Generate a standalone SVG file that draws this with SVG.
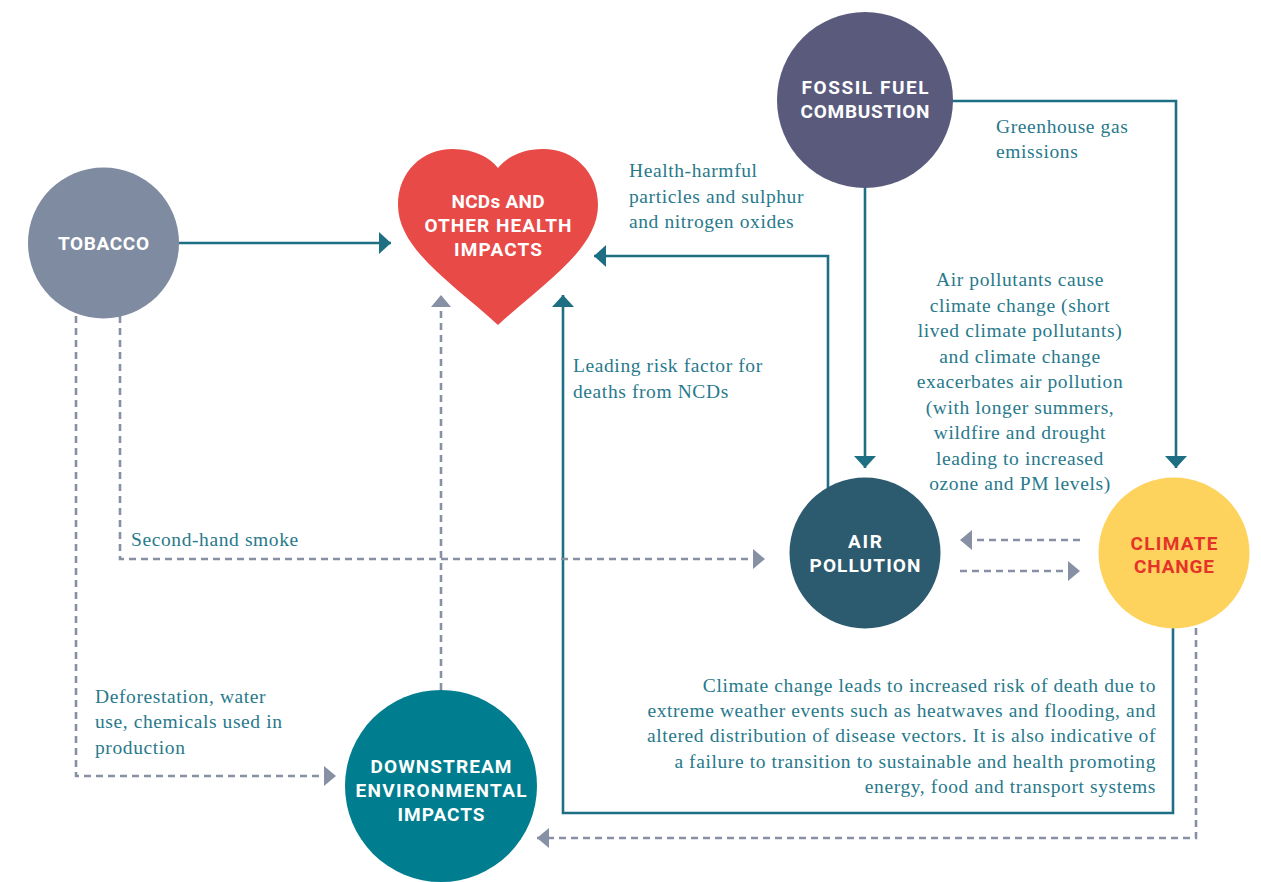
<svg xmlns="http://www.w3.org/2000/svg" width="1261" height="882" viewBox="0 0 1261 882">
  <style>
    .solid { fill: none; stroke: #1e6f83; stroke-width: 2.6; }
    .dash { fill: none; stroke: #8890a6; stroke-width: 2.6; stroke-dasharray: 7 5; }
    .label { font-family: Roboto, "Liberation Sans", sans-serif; font-weight: 700; font-size: 19px; text-anchor: middle; fill: #ffffff; }
    .note { font-family: "Liberation Serif", serif; font-size: 19.5px; letter-spacing: 0.6px; fill: #28798b; }
  </style>
  <defs>
    <marker id="arrowSolid" markerUnits="userSpaceOnUse" markerWidth="14" markerHeight="24" refX="12" refY="11" orient="auto">
      <path d="M0,0 L12,11 L0,22 Z" fill="#1e6f83"/>
    </marker>
    <marker id="arrowDash" markerUnits="userSpaceOnUse" markerWidth="14" markerHeight="24" refX="12" refY="10" orient="auto">
      <path d="M0,0 L12,10 L0,20 Z" fill="#8890a6"/>
    </marker>
  </defs>
  <rect width="1261" height="882" fill="#ffffff"/>

  <g id="connectors">
    <!-- solid links -->
    <path class="solid" d="M179,243 H391" marker-end="url(#arrowSolid)"/>
    <path class="solid" d="M828,500 V256 H594" marker-end="url(#arrowSolid)"/>
    <path class="solid" d="M865,160 V468" marker-end="url(#arrowSolid)"/>
    <path class="solid" d="M920,101 H1176 V468" marker-end="url(#arrowSolid)"/>
    <path class="solid" d="M1173,610 V813 H563 V295" marker-end="url(#arrowSolid)"/>
    <!-- dashed links -->
    <path class="dash" d="M1196,628 V838 H537" marker-end="url(#arrowDash)"/>
    <path class="dash" d="M76,316 V776 H336" marker-end="url(#arrowDash)"/>
    <path class="dash" d="M120,316 V559 H765" marker-end="url(#arrowDash)"/>
    <path class="dash" d="M441,690 V295" marker-end="url(#arrowDash)"/>
    <path class="dash" d="M1080,540 H960" marker-end="url(#arrowDash)"/>
    <path class="dash" d="M960,571 H1080" marker-end="url(#arrowDash)"/>
  </g>

  <g id="tobacco">
    <circle cx="103.5" cy="243" r="75.5" fill="#7f8ba1"/>
    <text class="label" x="103.5" y="250" textLength="91" lengthAdjust="spacing">TOBACCO</text>
  </g>

  <g id="ncds">
    <path d="M498,325 C455,285 398,250 398,205 C398,172 422,149 453,149 C475,149 490,158 498,168 C506,158 521,149 543,149 C574,149 598,172 598,205 C598,250 541,285 498,325 Z" fill="#e84a47"/>
    <text class="label" x="498" y="208" textLength="93" lengthAdjust="spacing">NCDs AND</text>
    <text class="label" x="498" y="232" textLength="147" lengthAdjust="spacing">OTHER HEALTH</text>
    <text class="label" x="498" y="256" textLength="88" lengthAdjust="spacing">IMPACTS</text>
  </g>

  <g id="fossil-fuel">
    <circle cx="865" cy="100" r="88" fill="#5a5b7c"/>
    <text class="label" x="865" y="94" textLength="127" lengthAdjust="spacing">FOSSIL FUEL</text>
    <text class="label" x="865" y="118" textLength="129" lengthAdjust="spacing">COMBUSTION</text>
  </g>

  <g id="air-pollution">
    <circle cx="865" cy="553" r="75.5" fill="#2c5a6e"/>
    <text class="label" x="865" y="548" textLength="34" lengthAdjust="spacing">AIR</text>
    <text class="label" x="865" y="572" textLength="111" lengthAdjust="spacing">POLLUTION</text>
  </g>

  <g id="climate-change">
    <circle cx="1174" cy="553" r="75.5" fill="#fdd35d"/>
    <text class="label" x="1174" y="550" style="fill:#e5332a" textLength="87" lengthAdjust="spacing">CLIMATE</text>
    <text class="label" x="1174" y="573" style="fill:#e5332a" textLength="80" lengthAdjust="spacing">CHANGE</text>
  </g>

  <g id="downstream">
    <circle cx="441" cy="786" r="96" fill="#007d8f"/>
    <text class="label" x="441" y="773" textLength="141" lengthAdjust="spacing">DOWNSTREAM</text>
    <text class="label" x="441" y="797" textLength="171" lengthAdjust="spacing">ENVIRONMENTAL</text>
    <text class="label" x="441" y="821" textLength="87" lengthAdjust="spacing">IMPACTS</text>
  </g>

  <g id="notes">
    <text class="note" x="629" y="177">Health-harmful</text>
    <text class="note" x="629" y="203">particles and sulphur</text>
    <text class="note" x="629" y="228">and nitrogen oxides</text>

    <text class="note" x="996" y="133">Greenhouse gas</text>
    <text class="note" x="996" y="158">emissions</text>

    <text class="note" x="573" y="372">Leading risk factor for</text>
    <text class="note" x="573" y="398">deaths from NCDs</text>

    <text class="note" x="131" y="546">Second-hand smoke</text>

    <text class="note" x="95" y="703">Deforestation, water</text>
    <text class="note" x="95" y="728">use, chemicals used in</text>
    <text class="note" x="95" y="754">production</text>

    <g text-anchor="middle">
      <text class="note" x="1020" y="286">Air pollutants cause</text>
      <text class="note" x="1020" y="311.5">climate change (short</text>
      <text class="note" x="1020" y="337">lived climate pollutants)</text>
      <text class="note" x="1020" y="362.5">and climate change</text>
      <text class="note" x="1020" y="388">exacerbates air pollution</text>
      <text class="note" x="1020" y="413.5">(with longer summers,</text>
      <text class="note" x="1020" y="439">wildfire and drought</text>
      <text class="note" x="1020" y="464.5">leading to increased</text>
      <text class="note" x="1020" y="490">ozone and PM levels)</text>
    </g>

    <g text-anchor="end">
      <text class="note" x="1156" y="692">Climate change leads to increased risk of death due to</text>
      <text class="note" x="1156" y="717">extreme weather events such as heatwaves and flooding, and</text>
      <text class="note" x="1156" y="742">altered distribution of disease vectors. It is also indicative of</text>
      <text class="note" x="1156" y="768">a failure to transition to sustainable and health promoting</text>
      <text class="note" x="1156" y="793">energy, food and transport systems</text>
    </g>
  </g>
</svg>
